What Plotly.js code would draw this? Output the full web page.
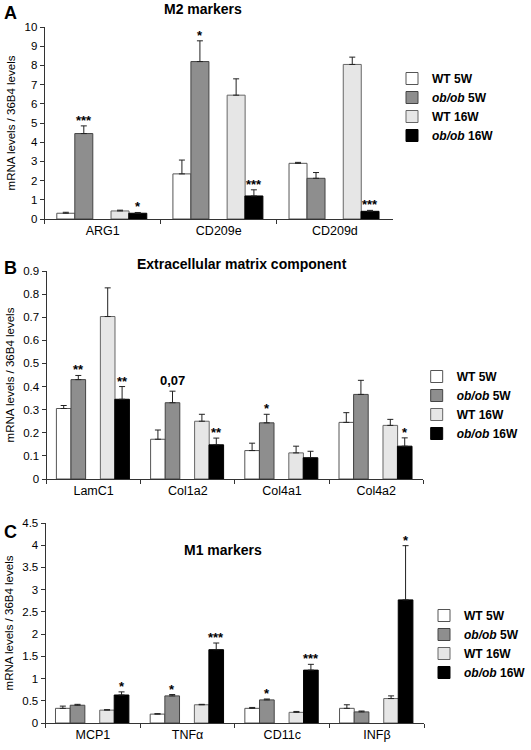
<!DOCTYPE html>
<html>
<head>
<meta charset="utf-8">
<script src="https://cdn.plot.ly/plotly-3.0.1.min.js"></script>
<style>html,body{margin:0;padding:0;background:#fff;}#chart{width:531px;height:750px;}</style>
</head>
<body>
<div id="chart"></div>
<script>
// ---------- DATA ----------
const seriesNames = ['<b>WT 5W</b>', '<b><i>ob/ob</i> 5W</b>', '<b>WT 16W</b>', '<b><i>ob/ob</i> 16W</b>'];

// Panel A: M2 markers
const catsA = ['ARG1', 'CD209e', 'CD209d'];
const A_wt5 = [0.30, 2.35, 2.90];   const A_wt5_err = [0.05, 0.72, 0.05];
const A_ob5 = [4.45, 8.20, 2.12];   const A_ob5_err = [0.40, 1.08, 0.30];
const A_wt16 = [0.42, 6.45, 8.05];  const A_wt16_err = [0.04, 0.85, 0.38];
const A_ob16 = [0.30, 1.20, 0.40];  const A_ob16_err = [0.04, 0.32, 0.05];
const A_sig_ob5 = ['***', '*', ''];
const A_sig_ob16 = ['*', '***', '***'];

// Panel B: Extracellular matrix component
const catsB = ['LamC1', 'Col1a2', 'Col4a1', 'Col4a2'];
const B_wt5 = [0.305, 0.172, 0.123, 0.245];  const B_wt5_err = [0.013, 0.040, 0.032, 0.042];
const B_ob5 = [0.430, 0.330, 0.243, 0.366];  const B_ob5_err = [0.018, 0.050, 0.037, 0.061];
const B_wt16 = [0.703, 0.250, 0.113, 0.232]; const B_wt16_err = [0.124, 0.030, 0.029, 0.026];
const B_ob16 = [0.345, 0.148, 0.092, 0.142]; const B_ob16_err = [0.055, 0.029, 0.028, 0.036];
const B_sig_ob5 = ['**', '0,07', '*', ''];
const B_sig_ob16 = ['**', '**', '', '*'];

// Panel C: M1 markers
const catsC = ['MCP1', 'TNF\u03b1', 'CD11c', 'INF\u03b2'];
const C_wt5 = [0.33, 0.20, 0.33, 0.33];  const C_wt5_err = [0.05, 0.01, 0.02, 0.08];
const C_ob5 = [0.40, 0.61, 0.52, 0.25];  const C_ob5_err = [0.02, 0.03, 0.02, 0.02];
const C_wt16 = [0.29, 0.41, 0.24, 0.55]; const C_wt16_err = [0.01, 0.01, 0.02, 0.06];
const C_ob16 = [0.63, 1.65, 1.19, 2.77]; const C_ob16_err = [0.07, 0.15, 0.13, 1.22];
const C_sig_ob5 = ['', '*', '*', ''];
const C_sig_ob16 = ['*', '***', '***', '*'];

// ---------- STYLE ----------
const FONT = 'Arial, "Liberation Sans", Helvetica, sans-serif';
const colors = ['#ffffff', '#8e8e8e', '#e6e6e6', '#000000'];
const outline = ['#555555', '#444444', '#666666', '#000000'];
const barOffsets = [-0.395, -0.24, 0.072, 0.225];
const barWidth = 0.155;

const traces = [];
const annotations = [];

function addPanel(cats, vals, errs, sigs, axIdx) {
  const xa = axIdx === 1 ? 'x' : 'x' + axIdx;
  const ya = axIdx === 1 ? 'y' : 'y' + axIdx;
  const legendId = axIdx === 1 ? 'legend' : 'legend' + axIdx;
  vals.forEach((v, s) => {
    traces.push({
      type: 'bar', x: cats, y: v, name: seriesNames[s],
      xaxis: xa, yaxis: ya, legend: legendId,
      offset: barOffsets[s], width: barWidth,
      marker: {color: colors[s], line: {color: outline[s], width: 1}},
      error_y: {type: 'data', symmetric: false, array: errs[s], arrayminus: errs[s].map(() => 0),
                color: '#222', thickness: 1, width: 3},
      hoverinfo: 'skip'
    });
  });
  sigs.forEach(([s, labels]) => {
    labels.forEach((t, i) => {
      if (!t) return;
      const isNum = t.indexOf(',') >= 0;
      annotations.push({
        xref: xa, yref: ya,
        x: i + barOffsets[s] + barWidth / 2,
        y: vals[s][i] + errs[s][i],
        text: '<b>' + t + '</b>', showarrow: false,
        yanchor: 'bottom', yshift: isNum ? 1 : -4,
        font: {family: FONT, size: 13, color: '#000'}
      });
    });
  });
}

addPanel(catsA, [A_wt5, A_ob5, A_wt16, A_ob16], [A_wt5_err, A_ob5_err, A_wt16_err, A_ob16_err],
         [[1, A_sig_ob5], [3, A_sig_ob16]], 1);
addPanel(catsB, [B_wt5, B_ob5, B_wt16, B_ob16], [B_wt5_err, B_ob5_err, B_wt16_err, B_ob16_err],
         [[1, B_sig_ob5], [3, B_sig_ob16]], 2);
addPanel(catsC, [C_wt5, C_ob5, C_wt16, C_ob16], [C_wt5_err, C_ob5_err, C_wt16_err, C_ob16_err],
         [[1, C_sig_ob5], [3, C_sig_ob16]], 3);

// panel titles and letters
const W = 531, H = 750;
function px(xp) { return xp / W; }
function py(yp) { return 1 - yp / H; }
[
  ['<b>A</b>', 2, 1, 18], ['<b>B</b>', 2, 256, 18], ['<b>C</b>', 2, 520, 18]
].forEach(([t, x, y, s]) => annotations.push({xref: 'paper', yref: 'paper', x: px(x), y: py(y),
  xanchor: 'left', yanchor: 'top', text: t, showarrow: false, font: {family: FONT, size: s, color: '#000'}}));
[
  ['<b>M2 markers</b>', 214, 9], ['<b>Extracellular matrix component</b>', 255, 264], ['<b>M1 markers</b>', 235, 550]
].forEach(([t, x, y]) => annotations.push({xref: 'paper', yref: 'paper', x: px(x), y: py(y),
  xanchor: 'center', yanchor: 'middle', text: t, showarrow: false, font: {family: FONT, size: 14, color: '#000'}}));

function xAxis(domain, n) {
  return {domain: domain, type: 'category', range: [-0.5, n - 0.5], showline: true, linecolor: '#333', linewidth: 1,
    ticks: 'outside', tickson: 'boundaries', ticklen: 4, tickcolor: '#333', showgrid: false, zeroline: false,
    tickfont: {family: FONT, size: 12.5, color: '#000'}, fixedrange: true};
}
function yAxis(domain, max, dtick, anchor) {
  return {domain: domain, anchor: anchor, range: [0, max], dtick: dtick, tick0: 0, showline: true, linecolor: '#333', linewidth: 1,
    ticks: 'outside', ticklen: 4, tickcolor: '#333', showgrid: false, zeroline: false,
    tickfont: {family: FONT, size: 11.5, color: '#000'},
    title: {text: 'mRNA levels / 36B4 levels', font: {family: FONT, size: 11.5, color: '#000'}, standoff: 6},
    fixedrange: true};
}

const legendBase = {xanchor: 'left', yanchor: 'top', bgcolor: 'rgba(0,0,0,0)', traceorder: 'normal',
  font: {family: FONT, size: 12, color: '#000'}, tracegroupgap: 0};

const layout = {
  width: W, height: H,
  margin: {l: 0, r: 0, t: 0, b: 0},
  paper_bgcolor: '#fff', plot_bgcolor: '#fff',
  barmode: 'overlay',
  showlegend: true,
  xaxis: Object.assign(xAxis([px(47), px(414)], 3), {anchor: 'y'}),
  yaxis: yAxis([py(219), py(27)], 10, 1, 'x'),
  xaxis2: Object.assign(xAxis([px(49), px(446)], 4), {anchor: 'y2'}),
  yaxis2: yAxis([py(479), py(271)], 0.9, 0.1, 'x2'),
  xaxis3: Object.assign(xAxis([px(48), px(447)], 4), {anchor: 'y3'}),
  yaxis3: yAxis([py(723), py(523)], 4.5, 0.5, 'x3'),
  legend: Object.assign({x: px(413), y: py(64)}, legendBase),
  legend2: Object.assign({x: px(439), y: py(362)}, legendBase),
  legend3: Object.assign({x: px(447), y: py(601)}, legendBase),
  annotations: annotations
};

Plotly.newPlot('chart', traces, layout, {displayModeBar: false, staticPlot: true});
</script>
</body>
</html>
